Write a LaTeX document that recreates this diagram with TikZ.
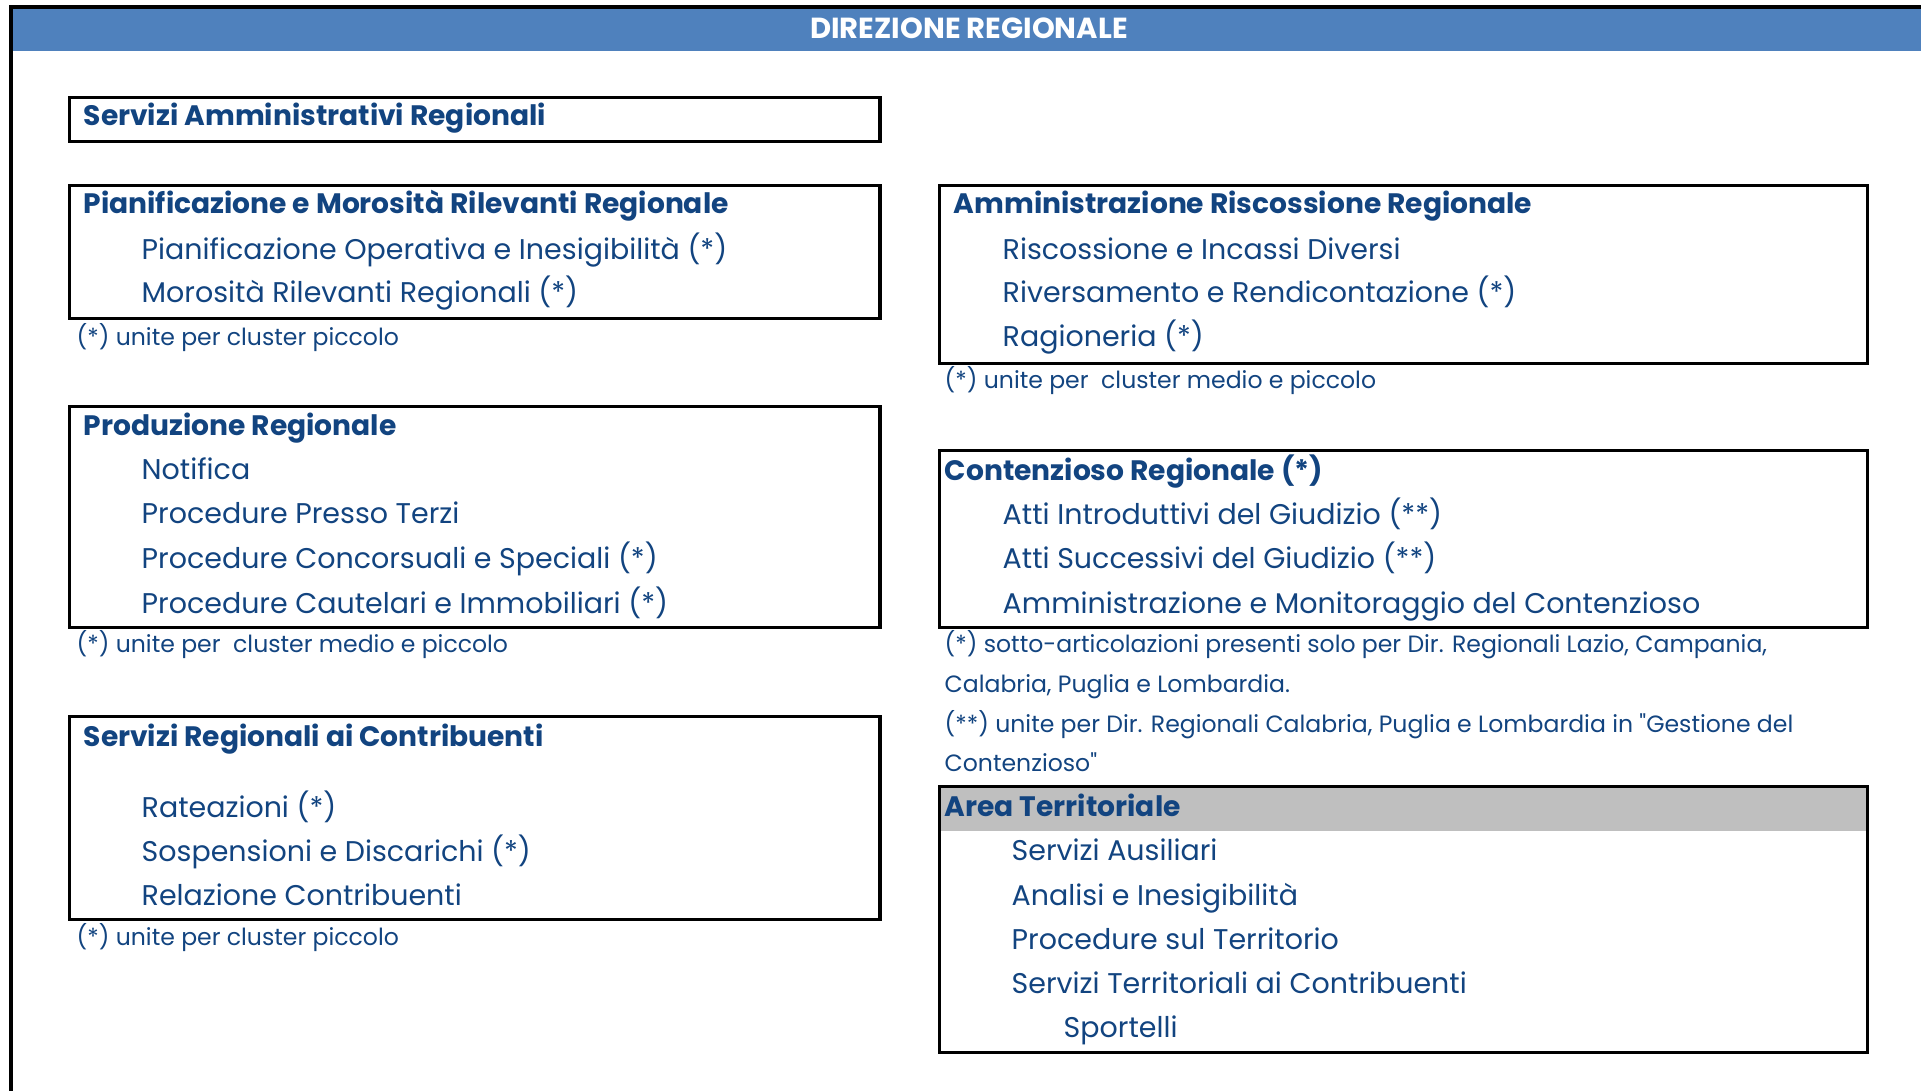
\documentclass[tikz,border=0pt]{standalone}
\usepackage{fontspec}
\setmainfont{Poppins}[Ligatures=TeXOff]
\definecolor{navy}{RGB}{18,68,128}
\definecolor{barblue}{RGB}{79,129,189}
\definecolor{bandgray}{RGB}{191,191,191}
\tikzset{
  unitbox/.style={draw=black, line width=0.9pt, rectangle, anchor=north west, inner sep=0pt},
  headtxt/.style={anchor=base west, inner sep=0pt, text=navy, font=\fontsize{8.0}{10}\selectfont\bfseries},
  itemtxt/.style={anchor=base west, inner sep=0pt, text=navy, font=\fontsize{8.1}{10}\selectfont},
  notetxt/.style={anchor=base west, inner sep=0pt, text=navy, font=\fontsize{6.7}{8}\selectfont}
}
\begin{document}
\begin{tikzpicture}[x=0.01cm, y=-0.01cm]
\useasboundingbox (0,0) rectangle (1921,1091);

% title bar
\fill[barblue] (11,9) rectangle (1921,51);
\draw[line width=1.1pt] (11,1091) -- (11,7) -- (1921,7);
\node[anchor=base, inner sep=0pt, text=white, font=\fontsize{8.25}{10}\selectfont\bfseries] (dir) at (969,39) {DIREZIONE REGIONALE};

% left column
\node[unitbox, minimum width=8.10cm, minimum height=0.44cm] (sar) at (68,96) {};
\node[headtxt] (sarh) at (83,126) {Servizi Amministrativi Regionali};

\node[unitbox, minimum width=8.10cm, minimum height=1.33cm] (pmr) at (68,184) {};
\node[headtxt] (pmrh) at (83,214) {Pianificazione e Morosità Rilevanti Regionale};
\node[itemtxt] (pmr1) at (141,259) {Pianificazione Operativa e Inesigibilità (*)};
\node[itemtxt] (pmr2) at (141,303) {Morosità Rilevanti Regionali (*)};
\node[notetxt] (pmrn) at (76,345) {(*) unite per cluster piccolo};

\node[unitbox, minimum width=8.10cm, minimum height=2.21cm] (prod) at (68,405) {};
\node[headtxt] (prodh) at (83,435) {Produzione Regionale};
\node[itemtxt] (prod1) at (141,479) {Notifica};
\node[itemtxt] (prod2) at (141,523) {Procedure Presso Terzi};
\node[itemtxt] (prod3) at (141,568) {Procedure Concorsuali e Speciali (*)};
\node[itemtxt] (prod4) at (141,613) {Procedure Cautelari e Immobiliari (*)};
\node[notetxt] (prodn) at (76,652) {(*) unite per\ \ cluster medio e piccolo};

\node[unitbox, minimum width=8.10cm, minimum height=2.03cm] (src) at (68,715) {};
\node[headtxt] (srch) at (83,746) {Servizi Regionali ai Contribuenti};
\node[itemtxt] (src1) at (141,817) {Rateazioni (*)};
\node[itemtxt] (src2) at (141,861) {Sospensioni e Discarichi (*)};
\node[itemtxt] (src3) at (141,905) {Relazione Contribuenti};
\node[notetxt] (srcn) at (76,945) {(*) unite per cluster piccolo};

% right column
\node[unitbox, minimum width=9.27cm, minimum height=1.78cm] (arr) at (938,184) {};
\node[headtxt] (arrh) at (953,214) {Amministrazione Riscossione Regionale};
\node[itemtxt] (arr1) at (1002,259) {Riscossione e Incassi Diversi};
\node[itemtxt] (arr2) at (1002,303) {Riversamento e Rendicontazione (*)};
\node[itemtxt] (arr3) at (1002,347) {Ragioneria (*)};
\node[notetxt] (arrn) at (944,388) {(*) unite per\ \ cluster medio e piccolo};

\node[unitbox, minimum width=9.27cm, minimum height=1.77cm] (cont) at (938,449) {};
\node[headtxt] (conth) at (944,480) {Contenzioso Regionale (*)};
\node[itemtxt] (cont1) at (1002,524) {Atti Introduttivi del Giudizio (**)};
\node[itemtxt] (cont2) at (1002,568) {Atti Successivi del Giudizio (**)};
\node[itemtxt] (cont3) at (1002,613) {Amministrazione e Monitoraggio del Contenzioso};
\node[notetxt] (contn1) at (944,652) {(*) sotto-articolazioni presenti solo per Dir. Regionali Lazio, Campania,};
\node[notetxt] (contn2) at (944,692) {Calabria, Puglia e Lombardia.};
\node[notetxt] (contn3) at (944,732) {(**) unite per Dir. Regionali Calabria, Puglia e Lombardia in "Gestione del};
\node[notetxt] (contn4) at (944,771) {Contenzioso"};

\node[unitbox, minimum width=9.27cm, minimum height=2.66cm,
  path picture={\fill[bandgray] (path picture bounding box.north west) rectangle ([yshift=-0.44cm]path picture bounding box.north east);}] (area) at (938,785) {};
\node[headtxt] (areah) at (944,816) {Area Territoriale};
\node[itemtxt] (area1) at (1011,860) {Servizi Ausiliari};
\node[itemtxt] (area2) at (1011,905) {Analisi e Inesigibilità};
\node[itemtxt] (area3) at (1011,949) {Procedure sul Territorio};
\node[itemtxt] (area4) at (1011,993) {Servizi Territoriali ai Contribuenti};
\node[itemtxt] (area5) at (1063,1037) {Sportelli};

\end{tikzpicture}
\end{document}
